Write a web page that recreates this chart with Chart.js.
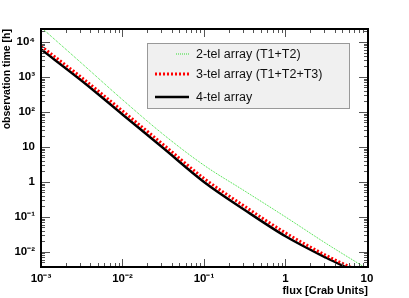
<!DOCTYPE html>
<html>
<head>
<meta charset="utf-8">
<script src="https://cdn.jsdelivr.net/npm/chart.js@4/dist/chart.umd.min.js"></script>
<style>
  html, body { margin: 0; padding: 0; background: #fff; }
  #wrap { width: 409px; height: 298px; position: relative; }
</style>
</head>
<body>
<div id="wrap"><canvas id="graficoTempo" width="409" height="298"></canvas></div>
<script>
// flux points (Crab units) and observation times (h)
const flussi = [0.001, 0.00316, 0.01, 0.0316, 0.1, 0.316, 1, 3.16, 10];
const tempo2tel = [26300, 2450, 224, 22.9, 3.0, 0.55, 0.1, 0.0174, 0.0033];
const tempo3tel = [7600, 955, 107, 11.7, 1.26, 0.2, 0.035, 0.0079, 0.0022];
const tempo4tel = [6200, 780, 85, 9.3, 1.0, 0.158, 0.028, 0.0068, 0.0019];

const etichette = ['2-tel array (T1+T2)', '3-tel array (T1+T2+T3)', '4-tel array'];
const tickX = [0.001, 0.01, 0.1, 1, 10];
const tickXLabel = ['10⁻³', '10⁻²', '10⁻¹', '1', '10'];
const tickY = [0.01, 0.1, 1, 10, 100, 1000, 10000];
const tickYLabel = ['10⁻²', '10⁻¹', '1', '10', '10²', '10³', '10⁴'];

const punti = valori => flussi.map((f, i) => ({ x: f, y: valori[i] }));

const famiglia = 'Liberation Sans, Arial, sans-serif';
const fontTick = { family: famiglia, size: 11.5, weight: 'bold' };

// frame, inner ticks on all sides, legend box
const cornice = {
  id: 'cornice',
  afterDraw(chart) {
    const { ctx, chartArea: a, scales: { x, y } } = chart;
    ctx.save();
    ctx.strokeStyle = '#555';
    ctx.lineWidth = 1;
    const segno = (x1, y1, x2, y2) => {
      ctx.beginPath(); ctx.moveTo(x1, y1); ctx.lineTo(x2, y2); ctx.stroke();
    };
    for (let e = -3; e <= 1; e++) {
      for (let m = 1; m <= 9; m++) {
        const v = m * Math.pow(10, e);
        if (v < x.min || v > x.max) continue;
        const px = Math.round(x.getPixelForValue(v)) + 0.5;
        const len = m === 1 ? 8 : 4;
        segno(px, a.bottom, px, a.bottom - len);
        segno(px, a.top, px, a.top + len);
      }
    }
    for (let e = -3; e <= 4; e++) {
      for (let m = 1; m <= 9; m++) {
        const v = m * Math.pow(10, e);
        if (v < y.min || v > y.max) continue;
        const py = Math.round(y.getPixelForValue(v)) + 0.5;
        const len = m === 1 ? 9 : 4;
        segno(a.left, py, a.left + len, py);
        segno(a.right, py, a.right - len, py);
      }
    }
    ctx.strokeStyle = '#000';
    ctx.lineWidth = 2;
    ctx.strokeRect(a.left, a.top, a.right - a.left, a.bottom - a.top);

    // legend
    const lx = 147, ly = 43, lw = 202, lh = 65;
    ctx.fillStyle = '#f0f0f0';
    ctx.fillRect(lx, ly, lw, lh);
    ctx.strokeStyle = '#999';
    ctx.lineWidth = 1;
    ctx.strokeRect(lx + 0.5, ly + 0.5, lw, lh);
    const righe = [54, 74, 97];
    chart.data.datasets.forEach((ds, i) => {
      ctx.strokeStyle = ds.borderColor;
      ctx.lineWidth = ds.borderWidth;
      ctx.setLineDash(ds.borderDash || []);
      segno(i === 0 ? 176 : 155, righe[i], 189, righe[i]);
      ctx.setLineDash([]);
      ctx.fillStyle = '#111';
      ctx.font = '12.5px ' + famiglia;
      ctx.textBaseline = 'middle';
      ctx.fillText(ds.label, 196, righe[i] + 1);
    });
    ctx.restore();
  }
};

new Chart(document.getElementById('graficoTempo').getContext('2d'), {
  type: 'line',
  data: {
    datasets: [
      { label: etichette[0], data: punti(tempo2tel), borderColor: '#33dd33', borderWidth: 1, borderDash: [1, 1] },
      { label: etichette[1], data: punti(tempo3tel), borderColor: '#ff0000', borderWidth: 3, borderDash: [2, 2] },
      { label: etichette[2], data: punti(tempo4tel), borderColor: '#000000', borderWidth: 2.5 }
    ]
  },
  options: {
    responsive: false,
    animation: false,
    layout: { padding: { top: 29, right: 41, left: 0, bottom: 0 } },
    elements: { point: { radius: 0 }, line: { cubicInterpolationMode: 'monotone' } },
    plugins: { legend: { display: false }, tooltip: { enabled: false } },
    scales: {
      x: {
        type: 'logarithmic',
        min: 0.001,
        max: 10.3,
        afterFit: s => { s.height = 31; },
        afterBuildTicks: s => { s.ticks = tickX.map(v => ({ value: v })); },
        grid: { display: false, drawTicks: false },
        border: { display: false },
        ticks: {
          padding: 5,
          maxRotation: 0,
          autoSkip: false,
          color: '#000',
          font: fontTick,
          callback: (v) => tickXLabel[tickX.indexOf(v)] ?? ''
        },
        title: {
          display: true,
          align: 'end',
          text: 'flux [Crab Units]',
          color: '#000',
          font: { family: famiglia, size: 11, weight: 'bold' },
          padding: { top: -4, bottom: 0 }
        }
      },
      y: {
        type: 'logarithmic',
        min: 0.0037,
        max: 23500,
        afterFit: s => { s.width = 41; },
        afterBuildTicks: s => { s.ticks = tickY.map(v => ({ value: v })); },
        grid: { display: false, drawTicks: false },
        border: { display: false },
        ticks: {
          padding: 6,
          autoSkip: false,
          color: '#000',
          font: fontTick,
          callback: (v) => tickYLabel[tickY.indexOf(v)] ?? ''
        },
        title: {
          display: true,
          align: 'end',
          text: 'observation time [h]',
          color: '#000',
          font: { family: famiglia, size: 10.5, weight: 'bold' },
          padding: { top: 1, bottom: 0 }
        }
      }
    }
  },
  plugins: [cornice]
});
</script>
</body>
</html>
